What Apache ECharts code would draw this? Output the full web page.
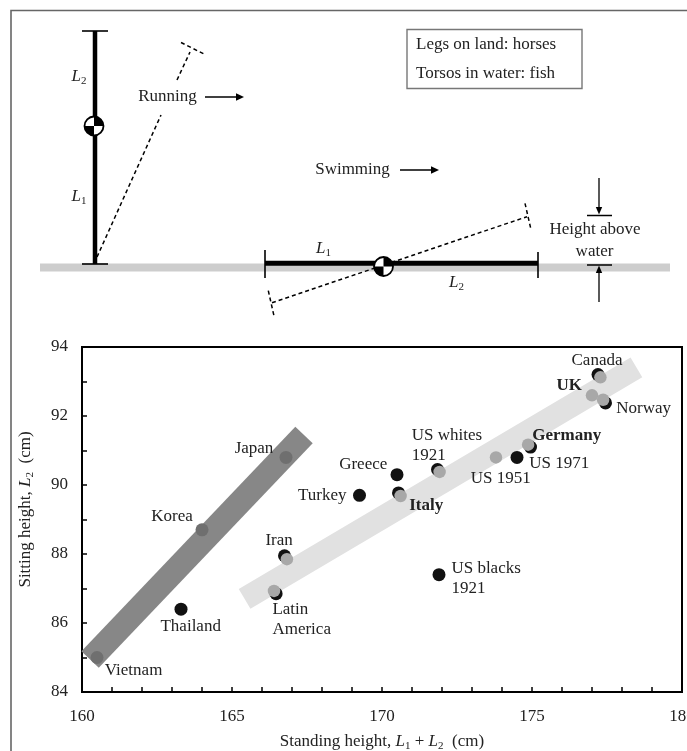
<!DOCTYPE html>
<html>
<head>
<meta charset="utf-8">
<script src="https://cdn.jsdelivr.net/npm/echarts@6/dist/echarts.min.js"></script>
<style>html,body{margin:0;padding:0;background:#fff;}#c{width:687px;height:751px;}</style>
</head>
<body>
<div id="c"></div>
<script>
// ---------- data ----------
const xLabelValues = [160, 165, 170, 175, 180];
const yLabelValues = [84, 86, 88, 90, 92, 94];

const darkNames = ['Vietnam', 'Korea', 'Japan'];
const darkX = [160.5, 164.0, 166.8];
const darkY = [85.0, 88.7, 90.8];

const blackNames = ['Thailand', 'Iran', 'Latin\nAmerica', 'Turkey', 'Greece', 'Italy', 'US whites\n1921', 'US blacks\n1921', 'US 1971', 'Germany', 'Canada', 'Norway'];
const blackX = [163.3, 166.75, 166.47, 169.25, 170.5, 170.55, 171.85, 171.9, 174.5, 174.95, 177.2, 177.45];
const blackY = [86.4, 87.95, 86.85, 89.7, 90.3, 89.77, 90.45, 87.4, 90.8, 91.1, 93.2, 92.38];

const grayNames = ['Iran', 'Latin\nAmerica', 'Italy', 'US whites\n1921', 'US 1951', 'Germany', 'UK', 'Canada', 'Norway'];
const grayX = [166.83, 166.4, 170.62, 171.92, 173.8, 174.87, 177.0, 177.28, 177.37];
const grayY = [87.85, 86.93, 89.68, 90.38, 90.8, 91.17, 92.6, 93.12, 92.47];

const darkBandX = [160.27, 167.4];
const darkBandY = [84.94, 91.45];
const lightBandX = [165.42, 178.48];
const lightBandY = [86.7, 93.41];

// ---------- styling ----------
const FONT = 'Liberation Serif';
const TXT = '#222';
const FS = 17;
// label placement relative to point centre: [align, dx, dy]
const labelLayout = {
  'Vietnam': ['center', 36.6, 13],
  'Thailand': ['center', 9.7, 17.7],
  'Korea': ['center', -30, -13],
  'Japan': ['center', -32, -9.3],
  'Iran': ['center', -5.4, -15],
  'Latin\nAmerica': ['left', -3.7, 25.5],
  'Turkey': ['right', -13, 0],
  'Greece': ['right', -9.7, -10],
  'Italy': ['left', 10.7, 12.3],
  'US whites\n1921': ['left', -25.7, -24],
  'US blacks\n1921': ['left', 12.4, 3.6],
  'US 1951': ['center', 4.7, 20.7],
  'US 1971': ['left', 12.3, 5.7],
  'Germany': ['left', 1.7, -11],
  'UK': ['right', -10, -9.4],
  'Norway': ['left', 10.7, 5.6],
  'Canada': ['center', -1, -14.4]
};
const boldNames = ['Italy', 'UK', 'Germany'];

const labelled = new Set();
function buildPoints(names, xs, ys) {
  return names.map((n, i) => {
    const item = { name: n, value: [xs[i], ys[i]] };
    const lay = labelLayout[n];
    if (lay && !labelled.has(n)) {
      labelled.add(n);
      item.label = {
        show: true, position: 'inside', formatter: n,
        align: lay[0], verticalAlign: 'middle', offset: [lay[1], lay[2]],
        fontFamily: FONT, fontSize: FS, color: TXT, lineHeight: 20,
        fontWeight: boldNames.includes(n) ? 'bold' : 'normal'
      };
    } else {
      item.label = { show: false };
    }
    return item;
  });
}

const darkPts = buildPoints(darkNames, darkX, darkY);
const blackPts = buildPoints(blackNames, blackX, blackY);
const grayPts = buildPoints(grayNames, grayX, grayY);

const rich = {
  it: { fontFamily: FONT, fontStyle: 'italic', fontSize: FS, color: TXT, lineHeight: 20 },
  sub: { fontFamily: FONT, fontSize: 11, color: TXT, verticalAlign: 'bottom', lineHeight: 13 }
};

// ---------- diagram (illustration above the chart) ----------
const g = [];
function line(x1, y1, x2, y2, w, color, dash) {
  g.push({ type: 'line', shape: { x1, y1, x2, y2 }, style: { stroke: color || '#000', lineWidth: w, lineDash: dash || null }, silent: true });
}
function tri(pts) {
  g.push({ type: 'polygon', shape: { points: pts }, style: { fill: '#000' }, silent: true });
}
function text(x, y, t, align, extra) {
  g.push(Object.assign({ type: 'text', x, y, style: { text: t, fontFamily: FONT, fontSize: FS, fill: TXT, align: align || 'center', verticalAlign: 'middle', rich: rich }, silent: true }, extra || {}));
}
function com(cx, cy, r) {
  g.push({ type: 'circle', shape: { cx, cy, r }, style: { fill: '#fff', stroke: '#000', lineWidth: 1.8 }, silent: true });
  g.push({ type: 'sector', shape: { cx, cy, r, r0: 0, startAngle: -Math.PI / 2, endAngle: 0 }, style: { fill: '#000' }, silent: true });
  g.push({ type: 'sector', shape: { cx, cy, r, r0: 0, startAngle: Math.PI / 2, endAngle: Math.PI }, style: { fill: '#000' }, silent: true });
}
// outer frame
g.push({ type: 'rect', shape: { x: 11, y: 10.5, width: 720, height: 800 }, style: { fill: null, stroke: '#666', lineWidth: 1.6 }, silent: true });
// water
g.push({ type: 'rect', shape: { x: 40, y: 263.5, width: 630, height: 8 }, style: { fill: '#cdcdcd' }, silent: true });
// running body
line(95, 31, 95, 264, 4.5);
line(82, 31, 108, 31, 1.6);
line(82, 264, 108, 264, 1.6);
com(94, 126, 9.5);
text(79, 77, '{it|L}{sub|2}');
text(79, 197, '{it|L}{sub|1}');
// running dashed leg
line(97, 257, 161, 115, 1.5, '#000', [4, 3]);
line(177, 80, 190, 52, 1.5, '#000', [4, 3]);
line(181, 42.5, 204, 54, 1.5, '#000', [4, 3]);
text(167.5, 97, 'Running');
line(205, 97, 237, 97, 1.5);
tri([[236, 93.3], [244, 97], [236, 100.7]]);
// box
g.push({ type: 'rect', shape: { x: 407, y: 29.5, width: 175, height: 59 }, style: { fill: null, stroke: '#777', lineWidth: 1.4 }, silent: true });
text(416, 45, 'Legs on land: horses', 'left');
text(416, 74, 'Torsos in water: fish', 'left');
// swimming
text(352.5, 170, 'Swimming');
line(400, 170, 432, 170, 1.5);
tri([[431, 166.3], [439, 170], [431, 173.7]]);
line(265, 263.3, 538, 263.3, 5);
line(265, 250, 265, 278, 1.6);
line(538, 252, 538, 278, 1.6);
line(272, 302.7, 527, 216.7, 1.5, '#000', [4, 3]);
line(268.3, 290.7, 274, 316, 1.5, '#000', [4, 3]);
line(525, 203.3, 530.7, 228.3, 1.5, '#000', [4, 3]);
com(383.5, 266.5, 9.5);
text(323.5, 249, '{it|L}{sub|1}');
text(456.5, 283, '{it|L}{sub|2}');
// height above water
line(599, 178, 599, 208, 1.3);
tri([[595.8, 207], [599, 214.5], [602.2, 207]]);
line(587, 215.5, 612, 215.5, 1.5);
text(595, 230, 'Height above');
text(594.5, 251.5, 'water');
line(587, 265, 612, 265, 1.5);
tri([[595.8, 273], [599, 265.5], [602.2, 273]]);
line(599, 272, 599, 302, 1.3);

// ---------- chart ----------
const chart = echarts.init(document.getElementById('c'), null, { renderer: 'canvas' });
const axisCommon = {
  type: 'value',
  interval: 1,
  axisLine: { show: true, lineStyle: { color: '#000', width: 2 } },
  axisTick: { show: true, inside: true, length: 5, lineStyle: { color: '#000', width: 1.5 } },
  splitLine: { show: false }
};
chart.setOption({
  animation: false,
  backgroundColor: '#fff',
  grid: { left: 82, top: 347, width: 600, height: 345, outerBoundsMode: 'none', containLabel: false,
    show: true, borderColor: '#000', borderWidth: 2, backgroundColor: 'transparent' },
  xAxis: Object.assign({}, axisCommon, {
    min: 160, max: 180,
    axisLabel: { margin: 16, fontFamily: FONT, fontSize: FS, color: TXT, showMinLabel: true, showMaxLabel: true,
      formatter: v => xLabelValues.includes(v) ? String(v) : '' },
    name: 'Standing height, {it|L}{sub|1} + {it|L}{sub|2}  (cm)',
    nameLocation: 'middle', nameGap: 40,
    nameTextStyle: { fontFamily: FONT, fontSize: FS, color: TXT, rich: rich }
  }),
  yAxis: Object.assign({}, axisCommon, {
    min: 84, max: 94,
    axisLabel: { margin: 14, fontFamily: FONT, fontSize: FS, color: TXT, showMinLabel: true, showMaxLabel: true,
      formatter: v => yLabelValues.includes(v) ? String(v) : '' },
    name: 'Sitting height, {it|L}{sub|2}  (cm)',
    nameLocation: 'middle', nameGap: 46, nameRotate: 90,
    nameTextStyle: { fontFamily: FONT, fontSize: FS, color: TXT, rich: rich, padding: [0, 0, 0, 20] }
  }),
  graphic: { elements: g },
  series: [
    { type: 'line', data: lightBandX.map((x, i) => [x, lightBandY[i]]), symbol: 'none', silent: true, z: 1,
      lineStyle: { color: '#e1e1e1', width: 23, cap: 'butt' } },
    { type: 'line', data: darkBandX.map((x, i) => [x, darkBandY[i]]), symbol: 'none', silent: true, z: 1,
      lineStyle: { color: '#878787', width: 24, cap: 'butt' } },
    { type: 'scatter', data: darkPts, symbolSize: 13, z: 3, itemStyle: { color: '#6f6f6f', opacity: 1 } },
    { type: 'scatter', data: blackPts, symbolSize: 13, z: 3, itemStyle: { color: '#111', opacity: 1 } },
    { type: 'scatter', data: grayPts, symbolSize: 12.5, z: 4, itemStyle: { color: '#a8a8a8', opacity: 1 } }
  ]
});
</script>
</body>
</html>
